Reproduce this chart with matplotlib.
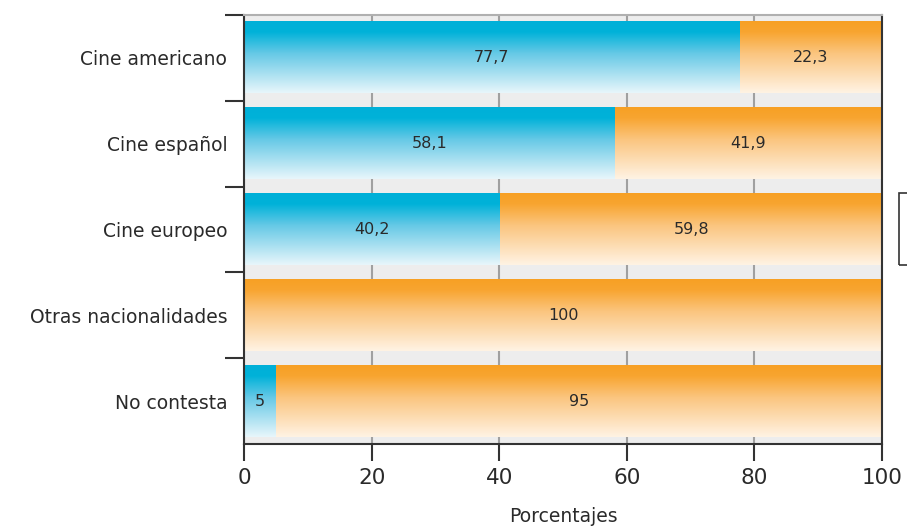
import numpy as np
import matplotlib.pyplot as plt
from matplotlib.colors import LinearSegmentedColormap
from matplotlib.patches import Rectangle

plt.rcParams['font.family'] = ['DejaVu Sans']

# datos
categorias = ["Cine americano", "Cine español", "Cine europeo",
              "Otras nacionalidades", "No contesta"]
serie_azul = [77.7, 58.1, 40.2, 0, 5]
serie_naranja = [22.3, 41.9, 59.8, 100, 95]
etiquetas_azul = ["77,7", "58,1", "40,2", "", "5"]
etiquetas_naranja = ["22,3", "41,9", "59,8", "100", "95"]
xticks = [0, 20, 40, 60, 80, 100]

# degradado vertical: intenso arriba, casi blanco abajo
cmap_azul = LinearSegmentedColormap.from_list(
    "azul", [(0, "#e8f6fb"), (0.55, "#66c9e6"), (0.85, "#00b2d9"), (1, "#00b0d8")])
cmap_naranja = LinearSegmentedColormap.from_list(
    "naranja", [(0, "#fff3e4"), (0.55, "#fbc57f"), (0.85, "#f8a530"), (1, "#f7a024")])
grad = np.linspace(0, 1, 256).reshape(-1, 1)

fig = plt.figure(figsize=(9.07, 5.26), dpi=100)
ax = fig.add_axes([0.269, 0.156, 0.7035, 0.8155])
ax.set_facecolor("#ededed")

y = np.arange(len(categorias))
alto = 0.83


def barras_degradado(izq, ancho, cmap):
    bars = ax.barh(y, ancho, left=izq, height=alto, color="none", zorder=2)
    for b in bars:
        x0, y0 = b.get_x(), b.get_y()
        w, h = b.get_width(), b.get_height()
        if w <= 0:
            continue
        ax.imshow(grad, cmap=cmap, aspect="auto", origin="lower",
                  extent=[x0, x0 + w, y0 + h, y0], zorder=2,
                  interpolation="bilinear")
    return bars


barras_degradado(0, serie_azul, cmap_azul)
barras_degradado(serie_azul, serie_naranja, cmap_naranja)

for i in range(len(categorias)):
    if etiquetas_azul[i]:
        ax.text(serie_azul[i] / 2, y[i], etiquetas_azul[i], ha="center",
                va="center", fontsize=11.5, color="#2a2a2a", zorder=3)
    ax.text(serie_azul[i] + serie_naranja[i] / 2, y[i], etiquetas_naranja[i],
            ha="center", va="center", fontsize=11.5, color="#2a2a2a", zorder=3)

ax.set_xlim(0, 100)
ax.set_ylim(len(categorias) - 0.5, -0.5)
ax.set_xticks(xticks)
ax.set_xticklabels([str(v) for v in xticks])
ax.tick_params(axis="x", length=12, width=1.5, color="#333333",
               labelsize=15.5, labelcolor="#2a2a2a", pad=5)
ax.set_yticks(y)
ax.set_yticklabels(categorias)
ax.tick_params(axis="y", which="major", length=0, labelsize=13.5,
               labelcolor="#2a2a2a", pad=12)
ax.set_yticks(np.arange(-0.5, len(categorias) - 0.5, 1), minor=True)
ax.tick_params(axis="y", which="minor", length=14, width=1.5, color="#333333")

ax.grid(axis="x", color="#a0a0a0", linewidth=1.5, zorder=1)
ax.set_axisbelow(True)
for lado in ["left", "bottom", "right"]:
    ax.spines[lado].set_color("#333333")
    ax.spines[lado].set_linewidth(1.5)
ax.spines["top"].set_color("#b0b0b0")
ax.spines["top"].set_linewidth(1.5)

ax.set_xlabel("Porcentajes", fontsize=13.5, color="#2a2a2a", labelpad=14)

# recuadro de leyenda cortado en el borde derecho
fig.patches.append(Rectangle((899 / 907, 1 - 265 / 526), 0.05, 72 / 526,
                             transform=fig.transFigure, fill=False,
                             edgecolor="#333333", linewidth=1.2))

fig.savefig("out.png", dpi=100)
